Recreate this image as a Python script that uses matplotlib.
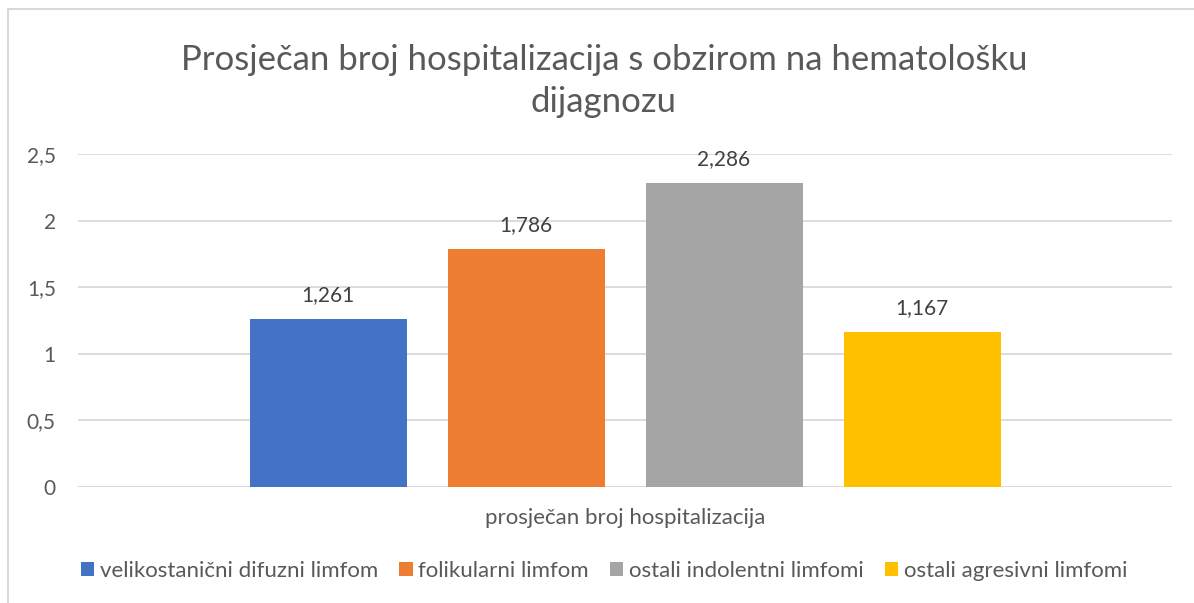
import matplotlib
matplotlib.use("Agg")
import matplotlib.pyplot as plt
from matplotlib.patches import Patch
from matplotlib.lines import Line2D
import numpy as np

title = "Prosječan broj hospitalizacija s obzirom na hematološku\ndijagnozu"
category = "prosječan broj hospitalizacija"
series = ["velikostanični difuzni limfom", "folikularni limfom",
          "ostali indolentni limfomi", "ostali agresivni limfomi"]
values = [1.261, 1.786, 2.286, 1.167]
value_labels = ["1,261", "1,786", "2,286", "1,167"]
yticks = [0, 0.5, 1, 1.5, 2, 2.5]
ytick_labels = ["0", "0,5", "1", "1,5", "2", "2,5"]
colors = ["#4472C4", "#ED7D31", "#A5A5A5", "#FFC000"]

plt.rcParams['font.family'] = ['Lato', 'DejaVu Sans']
txt = "#595959"

W, H = 1194, 603
fig = plt.figure(figsize=(W/100, H/100), dpi=100)
ax = fig.add_axes([78/W, 1-487/H, (1172-78)/W, (487-154)/H])

step = 198/1094
width = 157/1094
n = len(values)
for i, (v, c, lab) in enumerate(zip(values, colors, value_labels)):
    x = (i - (n-1)/2) * step
    ax.bar(x, v, width=width, color=c, zorder=3, label=series[i])
    ax.annotate(lab, (x, v), xytext=(0, 10), textcoords="offset points",
                ha="center", va="bottom", fontsize=15, color="#404040")

ax.set_xlim(-0.5, 0.5)
ax.set_ylim(0, 2.5)
ax.set_yticks(yticks)
ax.set_yticklabels(ytick_labels, fontsize=15, color=txt)
ax.set_xticks([0])
ax.set_xticklabels([category], fontsize=16, color=txt)
ax.tick_params(axis='both', length=0)
ax.tick_params(axis='y', pad=16)
ax.tick_params(axis='x', pad=15)
ax.grid(axis='y', color="#D9D9D9", linewidth=1.3, zorder=0)
for s in ax.spines.values():
    s.set_visible(False)
ax.axhline(0, color="#D9D9D9", linewidth=1.3, zorder=2)

fig.text(604/W, 1-81/H, title, ha="center", va="center", fontsize=25,
         color=txt, linespacing=1.4)

handles = [Patch(facecolor=c, edgecolor='none') for c in colors]
fig.legend(handles, series, loc="center", bbox_to_anchor=(604/W, 1-571/H),
           ncol=4, frameon=False, fontsize=16, handlelength=0.6,
           handleheight=0.6, handletextpad=0.25, columnspacing=0.95,
           labelcolor=txt)

fig.add_artist(Line2D([8/W, 1], [1-9/H, 1-9/H], transform=fig.transFigure,
                      color="#D9D9D9", linewidth=1.5))
fig.add_artist(Line2D([8/W, 8/W], [0, 1-9/H], transform=fig.transFigure,
                      color="#D9D9D9", linewidth=1.5))

fig.savefig("out.png", dpi=100, facecolor="white")
